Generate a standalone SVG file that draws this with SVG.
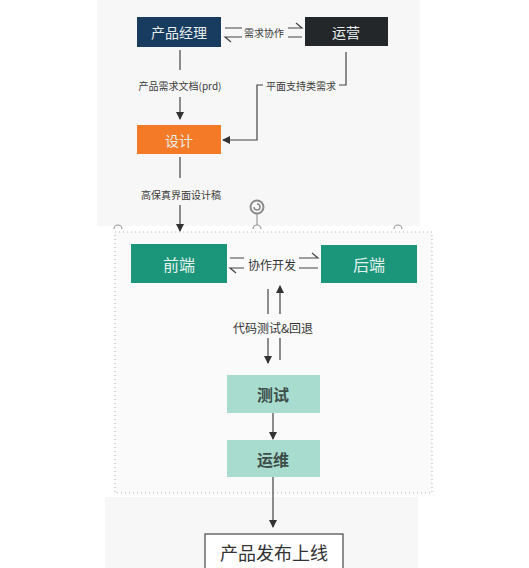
<svg xmlns="http://www.w3.org/2000/svg" width="529" height="568" viewBox="0 0 529 568">
  <style>
    text { font-family: "Noto Sans CJK SC", "Noto Sans", sans-serif; text-anchor: middle; dominant-baseline: central; }
    .lbl { font-size: 10px; fill: #3a3a3a; }
    .lbl-lg { font-size: 12px; fill: #333333; }
    .edge { stroke: #444444; stroke-width: 1.2; fill: none; }
    .node-text { font-size: 14px; fill: #e8eeee; }
    .node-text-lg { font-size: 16px; fill: #e4f1ec; }
    .stage-text { font-size: 16px; font-weight: bold; fill: #3c4e49; }
  </style>
  <defs>
    <marker id="arrow" viewBox="0 0 8 8" refX="7" refY="4" markerWidth="8" markerHeight="8" markerUnits="userSpaceOnUse" orient="auto">
      <path d="M0,0 L8,4 L0,8 z" fill="#333333"/>
    </marker>
  </defs>

  <rect width="529" height="568" fill="#ffffff"/>

  <!-- panels -->
  <rect x="97" y="0" width="323" height="226" fill="#f7f7f7"/>
  <rect x="115" y="232" width="317" height="261" fill="#fafafa" stroke="#b8b8b8" stroke-width="1.2" stroke-dasharray="1 3"/>
  <rect x="105" y="497" width="313" height="71" fill="#f7f7f7"/>

  <!-- selection handles -->
  <g id="handles" fill="none" stroke="#9a9a9a" stroke-width="1.2">
    <path d="M114,229 A4,4 0 0 1 122,229"/>
    <path d="M394,229 A4,4 0 0 1 402,229"/>
    <path d="M253,229 A4,4 0 0 1 261,229"/>
    <line x1="257" y1="213" x2="257" y2="225"/>
    <circle cx="257" cy="207" r="6.5" stroke="#8a8a8a" stroke-width="2"/>
    <path d="M254,207 A3,3 0 1 0 257,204" stroke="#8a8a8a" stroke-width="1.5"/>
  </g>

  <!-- connectors -->
  <g id="connectors">
    <!-- 产品经理 ⇌ 运营 -->
    <path class="edge" d="M225,28 H302 L296,23"/>
    <path class="edge" d="M302,37 H225 L231,42"/>
    <rect x="242" y="22" width="46" height="20" fill="#f7f7f7"/>
    <text class="lbl" x="264" y="32">需求协作</text>

    <!-- 产品经理 → 设计 -->
    <line class="edge" x1="180" y1="50" x2="180" y2="119" marker-end="url(#arrow)"/>
    <rect x="128" y="70" width="104" height="27" fill="#f7f7f7"/>
    <text class="lbl" x="180" y="85">产品需求文档(prd)</text>

    <!-- 运营 → 设计 -->
    <path class="edge" d="M346,52 V85 H257 V140 H223" marker-end="url(#arrow)"/>
    <rect x="263" y="77" width="76" height="16" fill="#f7f7f7"/>
    <text class="lbl" x="301" y="85">平面支持类需求</text>

    <!-- 设计 → 开发区 -->
    <line class="edge" x1="180" y1="157" x2="180" y2="231" marker-end="url(#arrow)"/>
    <rect x="136" y="178" width="90" height="27" fill="#f7f7f7"/>
    <text class="lbl" x="181" y="194">高保真界面设计稿</text>

    <!-- 前端 ⇌ 后端 -->
    <path class="edge" d="M230,258 H318 L312,253"/>
    <path class="edge" d="M318,268 H230 L236,273"/>
    <rect x="244" y="252" width="55" height="22" fill="#fafafa"/>
    <text class="lbl-lg" x="272" y="264">协作开发</text>

    <!-- 代码测试&回退 -->
    <line class="edge" x1="268" y1="289" x2="268" y2="363" marker-end="url(#arrow)"/>
    <line class="edge" x1="280" y1="360" x2="280" y2="286" marker-end="url(#arrow)"/>
    <rect x="232" y="314" width="82" height="24" fill="#fafafa"/>
    <text class="lbl-lg" x="273" y="327">代码测试&amp;回退</text>

    <!-- 测试 → 运维 -->
    <line class="edge" x1="273" y1="413" x2="273" y2="439" marker-end="url(#arrow)"/>

    <!-- 运维 → 产品发布上线 -->
    <line class="edge" x1="273" y1="477" x2="273" y2="527" marker-end="url(#arrow)"/>
  </g>

  <!-- nodes -->
  <g id="pm">
    <rect x="137" y="17" width="84" height="30" fill="#173c60"/>
    <text class="node-text" x="179" y="32">产品经理</text>
  </g>
  <g id="ops">
    <rect x="305" y="17" width="83" height="29" fill="#23272a"/>
    <text class="node-text" x="346" y="32">运营</text>
  </g>
  <g id="design">
    <rect x="137" y="125" width="84" height="29" fill="#f47a27"/>
    <text class="node-text" x="179" y="140">设计</text>
  </g>
  <g id="frontend">
    <rect x="131" y="244" width="96" height="39" fill="#1b967b"/>
    <text class="node-text-lg" x="179" y="264">前端</text>
  </g>
  <g id="backend">
    <rect x="321" y="245" width="96" height="38" fill="#1b967b"/>
    <text class="node-text-lg" x="369" y="264">后端</text>
  </g>
  <g id="testing">
    <rect x="227" y="375" width="93" height="38" fill="#a8dccf"/>
    <text class="stage-text" x="273" y="394">测试</text>
  </g>
  <g id="devops">
    <rect x="227" y="440" width="93" height="37" fill="#a8dccf"/>
    <text class="stage-text" x="273" y="459">运维</text>
  </g>
  <g id="release">
    <rect x="205" y="534" width="138" height="40" fill="#ffffff" stroke="#555555" stroke-width="1.3"/>
    <text x="274" y="552" style="font-size:18px; fill:#333333;">产品发布上线</text>
  </g>
</svg>
